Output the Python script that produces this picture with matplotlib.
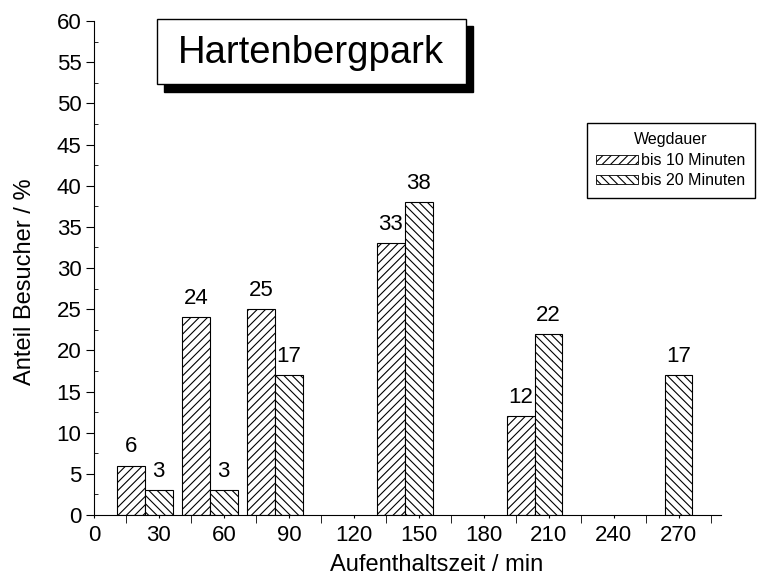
import numpy as np
import matplotlib
matplotlib.use("Agg")
import matplotlib.pyplot as plt
from matplotlib.patches import Rectangle, Patch

plt.rcParams['font.family'] = ['Liberation Sans', 'DejaVu Sans']
plt.rcParams['hatch.linewidth'] = 0.8

# data
minutes = np.array([30, 60, 90, 150, 210, 270])
bis10 = np.array([6, 24, 25, 33, 12, np.nan])
bis20 = np.array([3, 3, 17, 38, 22, 17])
series_labels = ['bis 10 Minuten', 'bis 20 Minuten']
legend_title = 'Wegdauer'
title = 'Hartenbergpark'

W, H = 757, 583
fig = plt.figure(figsize=(W / 100, H / 100), dpi=100)

def fx(px):
    return px / W

def fy(py):
    return 1 - py / H

ax = fig.add_axes([fx(94), fy(515), fx(721) - fx(94), fy(21) - fy(515)])

w = 12.8     # bar width in minutes
off = 6.5    # pair centre sits a bit left of the category value
b1 = ax.bar(minutes - off - w, bis10, w, align='edge', facecolor='white',
            edgecolor='black', hatch='////', lw=0.8)
b2 = ax.bar(minutes - off, bis20, w, align='edge', facecolor='white',
            edgecolor='black', hatch='\\\\\\\\', lw=0.8)

for bars, vals in ((b1, bis10), (b2, bis20)):
    for r, v in zip(bars, vals):
        if np.isnan(v):
            continue
        ax.annotate(f"{v:g}", (r.get_x() + r.get_width() / 2, v),
                    xytext=(0, 6), textcoords='offset points',
                    ha='center', va='bottom', fontsize=16)

ax.set_xlim(0, 289.5)
ax.set_ylim(0, 60)
ax.spines['top'].set_visible(False)
ax.spines['right'].set_visible(False)

ax.set_xticks(np.arange(0, 271, 30))
ax.set_xticks(np.arange(15, 290, 30), minor=True)
ax.set_yticks(np.arange(0, 61, 5))
ax.set_yticks(np.arange(2.5, 60, 5), minor=True)
ax.tick_params(axis='x', which='major', direction='out', length=2, labelsize=16, pad=5)
ax.tick_params(axis='x', which='minor', direction='out', length=6)
ax.tick_params(axis='y', which='major', direction='out', length=6, labelsize=16, pad=3)
ax.tick_params(axis='y', which='minor', direction='in', length=3)

ax.set_xlabel('Aufenthaltszeit / min', fontsize=17)
ax.set_ylabel('Anteil Besucher / %', fontsize=17)
ax.xaxis.set_label_coords(0.547, -0.079)
ax.yaxis.set_label_coords(-0.092, 0.472)

# title box with drop shadow
fig.add_artist(Rectangle((fx(164), fy(91.7)), fx(473) - fx(164), fy(26) - fy(91.7),
                         transform=fig.transFigure, facecolor='black', edgecolor='black'))
fig.add_artist(Rectangle((fx(156.7), fy(84)), fx(466) - fx(156.7), fy(19.3) - fy(84),
                         transform=fig.transFigure, facecolor='white', edgecolor='black', lw=1))
fig.text(fx(311.3), fy(53), title, fontsize=27.5, ha='center', va='center')

handles = [Patch(facecolor='white', edgecolor='black', hatch='////', lw=0.6),
           Patch(facecolor='white', edgecolor='black', hatch='\\\\\\\\', lw=0.6)]
leg = fig.legend(handles, series_labels, title=legend_title, loc='upper right',
                 bbox_to_anchor=(fx(755), fy(122.7)), fontsize=11.5, title_fontsize=11.5,
                 frameon=True, fancybox=False, framealpha=1, edgecolor='black',
                 handlelength=2.6, handleheight=0.5, handletextpad=0.2,
                 borderpad=0.6, labelspacing=0.35, borderaxespad=0)
leg.get_frame().set_linewidth(1)

fig.savefig('out.png', dpi=100)
